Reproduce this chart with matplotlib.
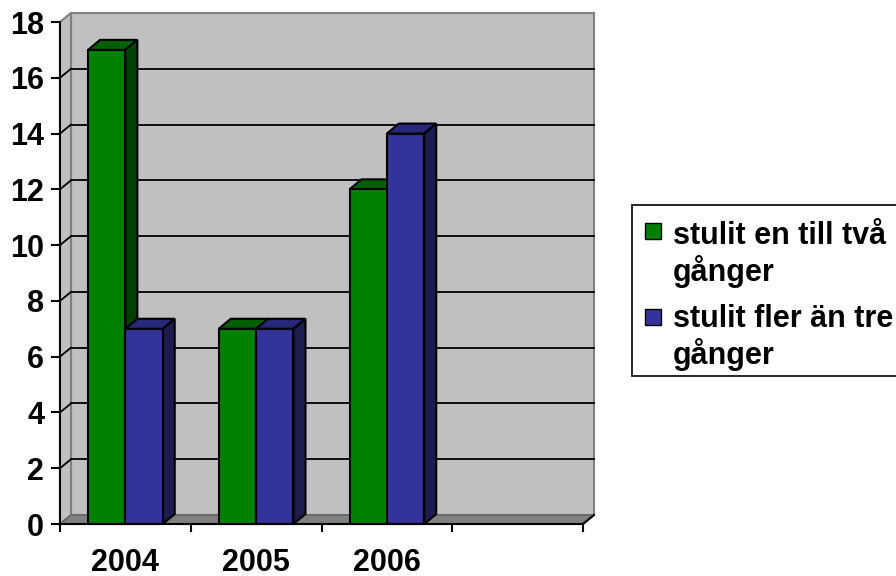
import matplotlib
matplotlib.use('Agg')
import matplotlib.pyplot as plt
from matplotlib.patches import Polygon, Rectangle

plt.rcParams['font.family'] = ['Liberation Sans', 'DejaVu Sans']
plt.rcParams['font.weight'] = 'bold'

# Data
years = ['2004', '2005', '2006', '']
serie_namn = ['stulit en till två\ngånger', 'stulit fler än tre\ngånger']
en_till_tva = [17, 7, 12]
fler_an_tre = [7, 7, 14]
farger = ['#008000', '#333399']
topp_farger = ['#006000', '#28287a']
sido_farger = ['#004000', '#1c1c4f']

W, H = 896, 576
fig = plt.figure(figsize=(W / 100, H / 100), dpi=100)
fig.patch.set_facecolor('white')

# axes: x 0..4 -> 60..583 px, y 0..18 -> 524..22 px
ax = fig.add_axes([60 / W, (H - 524) / H, 523 / W, 502 / H])
ax.set_xlim(0, 4)
ax.set_ylim(0, 18)
ax.set_facecolor('none')

# djup for 3D-effekten (i dataenheter)
DX, DY = 11 / 130.75, 9 / 27.89
BDX, BDY = 12 / 130.75, 10 / 27.89

# väggar
ax.add_patch(Polygon([(DX, DY), (4 + DX, DY), (4 + DX, 18 + DY), (DX, 18 + DY)],
                     facecolor='#C0C0C0', edgecolor='#808080', lw=1.5, zorder=0.5, clip_on=False))
ax.add_patch(Polygon([(0, 0), (DX, DY), (DX, 18 + DY), (0, 18)],
                     facecolor='#C0C0C0', edgecolor='#808080', lw=1.5, zorder=0.5, clip_on=False))
ax.add_patch(Polygon([(0, 0), (4, 0), (4 + DX, DY), (DX, DY)],
                     facecolor='#808080', edgecolor='#606060', lw=1, zorder=0.6, clip_on=False))

# rutnät
for v in range(2, 18, 2):
    ax.plot([DX, 4 + DX], [v + DY, v + DY], color='black', lw=1.3, zorder=1, clip_on=False)
    ax.plot([0, DX], [v, v + DY], color='black', lw=1.3, zorder=1, clip_on=False)
ax.plot([4, 4 + DX], [0, DY], color='black', lw=1.5, zorder=1, clip_on=False)

# staplar
n = len(en_till_tva)
x = list(range(n))
bw = 1 / 3.5
for s, vals in enumerate([en_till_tva, fler_an_tre]):
    left = [i + bw * 0.75 + s * bw for i in x]
    bars = ax.bar(left, vals, width=bw, align='edge', color=farger[s],
                  edgecolor='black', linewidth=1.5, zorder=3 + s, clip_on=False)
    for b in bars:
        x0, w, h = b.get_x(), b.get_width(), b.get_height()
        top = Polygon([(x0, h), (x0 + w, h), (x0 + w + BDX, h + BDY), (x0 + BDX, h + BDY)],
                      facecolor=topp_farger[s], edgecolor='black', lw=1.5, zorder=2.9 + s, clip_on=False)
        side = Polygon([(x0 + w, 0), (x0 + w + BDX, BDY), (x0 + w + BDX, h + BDY), (x0 + w, h)],
                       facecolor=sido_farger[s], edgecolor='black', lw=1.5, zorder=2.9 + s, clip_on=False)
        ax.add_patch(top)
        ax.add_patch(side)

# axlar
for sp in ['top', 'right']:
    ax.spines[sp].set_visible(False)
ax.spines['left'].set_linewidth(1.5)
ax.spines['bottom'].set_linewidth(1.5)
ax.spines['left'].set_zorder(5)
ax.spines['bottom'].set_zorder(5)
ax.set_yticks(range(0, 19, 2))
ax.tick_params(axis='y', length=6.5, width=1.5, pad=5, labelsize=22)
ax.set_xticks(range(0, 5))
ax.set_xticklabels([])
ax.tick_params(axis='x', which='major', length=6, width=1.5)
ax.set_xticks([i + 0.5 for i in range(4)], minor=True)
ax.set_xticklabels(years, minor=True)
ax.tick_params(axis='x', which='minor', length=0, pad=17, labelsize=22)
for t in ax.get_yticklabels() + ax.get_xticklabels(minor=True):
    t.set_fontweight('bold')


# förklaring (ritad för hand, sticker ut till höger som i originalet)
def fx(px):
    return px / W


def fy(py):
    return 1 - py / H


fig.add_artist(Rectangle((fx(632), fy(376)), fx(905) - fx(632), fy(205) - fy(376),
                         transform=fig.transFigure, facecolor='white', edgecolor='black', lw=1.2))
rader = [(231, 244, 281), (317, 327, 364)]
for s, (my, b1, b2) in enumerate(rader):
    fig.add_artist(Rectangle((fx(645), fy(my + 8)), fx(661) - fx(645), fy(my - 8) - fy(my + 8),
                             transform=fig.transFigure, facecolor=farger[s], edgecolor='black', lw=1))
    l1, l2 = serie_namn[s].split('\n')
    fig.text(fx(673), fy(b1), l1, fontsize=22, fontweight='bold', va='baseline', ha='left')
    fig.text(fx(673), fy(b2), l2, fontsize=22, fontweight='bold', va='baseline', ha='left')

fig.savefig('out.png', dpi=100)
